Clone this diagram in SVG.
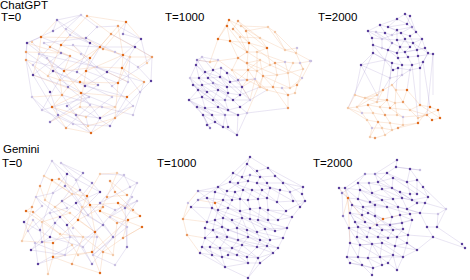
<svg xmlns="http://www.w3.org/2000/svg" width="470" height="280" viewBox="0 0 470 280">
<style>
text{font-family:"Liberation Sans",Arial,sans-serif;font-size:11.5px;fill:#000}
.e1{fill:none;stroke:#a396cf;stroke-width:0.55;stroke-opacity:0.45}
.e2{fill:none;stroke:#f0a874;stroke-width:0.55;stroke-opacity:0.45}
circle{r:1.25px}
.p{fill:#5a3f9c}.p2{fill:#8c7bc0}.p3{fill:#c9c0e2}
.o{fill:#df6a1c}.o2{fill:#e99a63}.o3{fill:#f3caa9}
</style>
<rect width="470" height="280" fill="#fff"/>
<text x="0" y="9">ChatGPT</text>
<text x="1" y="20.5">T=0</text>
<text x="165" y="20.5">T=1000</text>
<text x="318" y="20.5">T=2000</text>
<text x="3" y="153">Gemini</text>
<text x="2" y="167">T=0</text>
<text x="157" y="166.5">T=1000</text>
<text x="313" y="166.5">T=2000</text>

<g id="chatgpt-t0">
<g id="chatgpt-t0-edges">
<path class="e1" d="M81 15L57 20M81 15L97 27M81 15L66 29M57 20L53 31M57 20L70 35M97 27L118 26M97 27L86 38M118 26L141 39M126 22L123 34M123 34L141 39M111 34L135 47M53 31L27 43M41 37L61 45M66 29L90 43M70 35L103 49M86 38L115 52M27 43L26 60M32 42L47 58M44 43L61 53M50 47L33 65M73 45L97 67M90 43L77 72M100 47L86 71M135 47L152 57M135 47L122 68M141 39L147 63M115 52L138 67M123 55L107 72M26 52L53 71M39 54L64 71M61 53L33 75M70 56L48 76M81 54L112 86M90 58L60 80M130 57L128 82M152 57L151 81M26 60L32 97M47 58L68 87M33 65L50 92M53 71L80 82M64 71L42 110M77 72L98 85M86 71L118 83M97 67L144 82M107 72L85 86M122 68L140 92M138 67L151 81M33 75L52 107M48 76L62 95M60 80L89 97M68 87L90 105M80 82L112 97M85 86L127 97M98 85L67 106M112 86L133 106M128 82L115 107M144 82L133 115M50 92L58 115M62 95L76 115M81 93L100 118M89 97L50 122M112 97L86 117M127 97L110 126M140 92L115 118M32 97L66 128M42 110L73 124M52 107L88 126M67 106L91 133M80 107L110 126M90 105L66 128M102 107L133 115M58 115L91 133M76 115L100 118M73 124L110 126M27 43L41 37M53 31L81 15M44 43L86 38M61 45L100 47M135 47L100 47M152 57L147 63M26 52L27 43M26 60L33 75M39 54L97 67M61 53L107 72M151 81L140 92M128 82L97 67M32 97L42 110M58 115L50 122M100 118L133 106M86 117L88 126M57 20L90 43M27 43L64 71M141 39L123 55M26 60L77 72M53 71L85 86M147 63L112 86M33 75L68 87M81 93L115 107M42 110L89 97M62 95L102 107M91 133L100 118"/>
<path class="e2" d="M87 16L126 22M87 16L111 34M126 22L103 49M118 26L123 55M57 20L41 37M66 29L50 47M70 35L61 45M86 38L100 47M41 37L39 54M50 47L70 56M61 45L90 58M100 47L123 55M103 49L130 57M111 34L90 58M26 52L61 53M70 56L64 71M90 58L86 71M123 55L122 68M130 57L152 57M152 57L138 67M26 60L48 76M47 58L60 80M64 71L81 93M86 71L68 87M122 68L118 83M144 82L127 97M48 76L60 80M60 80L62 95M81 93L52 107M80 82L118 83M118 83L115 118M62 95L68 87M52 107L86 117M80 107L115 107M115 107L100 118M115 118L133 106M66 128L91 133M88 126L115 118M91 133L76 115M60 80L98 85M32 97L62 95M39 54L33 75M73 45L81 54M97 67L122 68M107 72L128 82M41 37L86 38M27 43L70 56M111 34L152 57M126 22L141 39M64 71L97 67M33 75L81 93M81 93L127 97M52 107L62 95M50 122L80 107M91 133L115 118M87 16L61 45M118 26L90 58M100 47L64 71M123 55L86 71M61 45L48 76M130 57L118 83M86 71L80 107M122 68L144 82M52 107L66 128"/>
</g>
<circle class="p3" cx="81" cy="15"/><circle class="o2" cx="87" cy="16"/><circle class="o" cx="126" cy="22"/><circle class="p2" cx="57" cy="20"/><circle class="o2" cx="118" cy="26"/><circle class="p3" cx="97" cy="27"/><circle class="p2" cx="53" cy="31"/><circle class="p3" cx="66" cy="29"/><circle class="o2" cx="111" cy="34"/><circle class="p2" cx="123" cy="34"/><circle class="o" cx="41" cy="37"/><circle class="p3" cx="70" cy="35"/><circle class="p2" cx="86" cy="38"/><circle class="p" cx="27" cy="43"/><circle class="o3" cx="32" cy="42"/><circle class="p3" cx="44" cy="43"/><circle class="o2" cx="50" cy="47"/><circle class="o" cx="61" cy="45"/><circle class="p3" cx="73" cy="45"/><circle class="p" cx="90" cy="43"/><circle class="o" cx="100" cy="47"/><circle class="p" cx="135" cy="47"/><circle class="p" cx="141" cy="39"/><circle class="o2" cx="103" cy="49"/><circle class="p3" cx="115" cy="52"/><circle class="o" cx="123" cy="55"/><circle class="o2" cx="26" cy="52"/><circle class="p3" cx="39" cy="54"/><circle class="p2" cx="61" cy="53"/><circle class="o2" cx="70" cy="56"/><circle class="p3" cx="81" cy="54"/><circle class="o" cx="90" cy="58"/><circle class="o3" cx="130" cy="57"/><circle class="o2" cx="152" cy="57"/><circle class="o2" cx="26" cy="60"/><circle class="p3" cx="47" cy="58"/><circle class="p3" cx="33" cy="65"/><circle class="p" cx="53" cy="71"/><circle class="o" cx="64" cy="71"/><circle class="p2" cx="77" cy="72"/><circle class="o" cx="86" cy="71"/><circle class="p3" cx="97" cy="67"/><circle class="p" cx="107" cy="72"/><circle class="o" cx="122" cy="68"/><circle class="p3" cx="138" cy="67"/><circle class="o3" cx="147" cy="63"/><circle class="p" cx="33" cy="75"/><circle class="o3" cx="48" cy="76"/><circle class="o3" cx="60" cy="80"/><circle class="p2" cx="68" cy="87"/><circle class="o" cx="80" cy="82"/><circle class="p" cx="85" cy="86"/><circle class="p2" cx="98" cy="85"/><circle class="p3" cx="112" cy="86"/><circle class="o" cx="118" cy="83"/><circle class="p3" cx="128" cy="82"/><circle class="o2" cx="144" cy="82"/><circle class="p" cx="151" cy="81"/><circle class="p" cx="50" cy="92"/><circle class="o2" cx="62" cy="95"/><circle class="o" cx="81" cy="93"/><circle class="p3" cx="89" cy="97"/><circle class="p3" cx="112" cy="97"/><circle class="o" cx="127" cy="97"/><circle class="p3" cx="140" cy="92"/><circle class="p3" cx="32" cy="97"/><circle class="p3" cx="42" cy="110"/><circle class="o" cx="52" cy="107"/><circle class="p2" cx="67" cy="106"/><circle class="o3" cx="80" cy="107"/><circle class="p3" cx="90" cy="105"/><circle class="p3" cx="102" cy="107"/><circle class="o3" cx="115" cy="107"/><circle class="p3" cx="133" cy="106"/><circle class="p2" cx="58" cy="115"/><circle class="p2" cx="76" cy="115"/><circle class="o3" cx="86" cy="117"/><circle class="p" cx="100" cy="118"/><circle class="o2" cx="115" cy="118"/><circle class="p3" cx="133" cy="115"/><circle class="o2" cx="66" cy="128"/><circle class="p3" cx="73" cy="124"/><circle class="o3" cx="88" cy="126"/><circle class="p2" cx="110" cy="126"/><circle class="o" cx="91" cy="133"/><circle class="p2" cx="50" cy="122"/>
</g>

<g id="chatgpt-t1000">
<g id="chatgpt-t1000-edges">
<path class="e2" d="M229 20L227 26M229 20L241 26M238 21L246 31M238 21L233 29M227 26L218 39M233 29L240 37M241 26L268 27M246 31L249 43M268 27L275 32M275 32L285 50M218 39L230 41M230 41L249 43M240 37L260 38M249 43L267 48M260 38L285 50M267 48L257 52M257 52L247 52M285 50L297 48M297 48L296 53M247 52L238 58M210 62L218 60M238 58L247 63M247 63L260 60M260 60L270 65M270 65L275 63M275 63L285 62M285 62L293 63M293 63L300 63M300 63L311 61M232 70L248 70M248 70L257 71M257 71L263 76M263 76L277 75M277 75L288 73M288 73L303 69M247 80L255 79M255 79L260 87M260 87L273 87M273 87L282 88M282 88L290 88M290 88L297 85M297 85L302 78M267 90L288 95M288 95L295 93M288 95L288 108M218 39L210 62M230 41L238 58M249 43L247 63M267 48L270 65M296 53L303 69M311 61L302 78M257 52L257 71M238 58L232 70M260 60L263 76M275 63L277 75M293 63L288 73M248 70L247 80M263 76L260 87M277 75L273 87M288 73L290 88M303 69L297 85M267 90L260 87M282 88L288 95M295 93L297 85M229 20L218 39M246 31L268 27M227 26L230 41M240 37L247 52M260 38L267 48M285 50L296 53M218 60L232 70M247 63L248 70M270 65L257 71M285 62L288 73M300 63L303 69M241 26L260 38M210 62L238 58M275 32L296 53M233 29L249 43M255 79L267 90M302 78L290 88M263 76L273 87M311 61L296 53M288 108L273 87M247 80L267 90M232 70L250 100M247 80L242 87M238 80L248 70M218 60L213 70M210 62L197 60M257 71L250 100M255 79L242 87M263 76L247 113M229 20L249 43M238 21L260 38M227 26L247 52M246 31L267 48M268 27L285 50M230 41L260 60M249 43L275 63M257 52L285 62M238 58L257 71M247 63L277 75M270 65L288 73M260 60L248 70M275 63L302 78M248 70L260 87M263 76L290 88M232 70L247 80"/>
<path class="e1" d="M197 60L202 57M197 60L196 65M202 57L213 70M196 65L205 72M205 72L213 70M213 70L221 68M221 68L227 73M190 78L199 78M199 78L208 78M208 78L220 77M220 77L230 82M230 82L238 80M193 85L202 85M202 85L213 83M213 83L227 87M227 87L242 87M198 90L207 92M207 92L218 90M218 90L228 93M228 93L240 95M189 100L202 97M202 97L213 100M213 100L225 100M225 100L233 100M233 100L250 100M197 107L205 108M205 108L218 107M218 107L228 110M228 110L240 107M203 115L212 115M212 115L225 115M225 115L238 115M238 115L247 113M207 125L215 122M215 122L223 127M223 127L228 127M228 127L237 135M210 128L207 125M196 65L190 78M205 72L199 78M213 70L208 78M221 68L220 77M227 73L230 82M190 78L193 85M199 78L202 85M208 78L213 83M220 77L227 87M238 80L242 87M193 85L198 90M202 85L207 92M213 83L218 90M227 87L228 93M242 87L240 95M198 90L189 100M207 92L202 97M218 90L213 100M228 93L225 100M240 95L233 100M189 100L197 107M202 97L205 108M213 100L218 107M225 100L228 110M233 100L240 107M197 107L203 115M205 108L212 115M218 107L225 115M228 110L238 115M240 107L247 113M203 115L207 125M212 115L215 122M225 115L223 127M238 115L237 135M196 65L213 83M205 72L227 87M190 78L207 92M199 78L218 90M208 78L228 93M220 77L240 95M193 85L213 100M202 85L225 100M213 83L233 100M189 100L205 108M202 97L218 107M213 100L228 110M197 107L212 115M205 108L225 115M218 107L238 115M203 115L210 128M212 115L223 127M225 115L228 127M202 57L196 65M197 60L205 72M221 68L238 80M230 82L250 100M189 100L203 115M237 135L247 113M210 128L203 115M240 107L250 100M202 57L218 60M197 60L210 62M242 87L250 100M230 82L247 80M238 80L255 79M240 95L260 87M250 100L267 90M247 113L288 108M196 65L199 78M190 78L202 97M193 85L207 92M213 70L230 82M205 72L220 77M227 73L242 87M198 90L213 100M218 90L233 100M207 92L228 110M189 100L212 115M203 115L223 127M215 122L237 135"/>
</g>
<circle class="o" cx="229" cy="20"/><circle class="o2" cx="238" cy="21"/><circle class="o" cx="227" cy="26"/><circle class="o2" cx="233" cy="29"/><circle class="o3" cx="241" cy="26"/><circle class="o2" cx="246" cy="31"/><circle class="o3" cx="268" cy="27"/><circle class="o3" cx="275" cy="32"/><circle class="o" cx="218" cy="39"/><circle class="o" cx="230" cy="41"/><circle class="o3" cx="240" cy="37"/><circle class="o" cx="249" cy="43"/><circle class="o3" cx="260" cy="38"/><circle class="o" cx="267" cy="48"/><circle class="o3" cx="257" cy="52"/><circle class="o2" cx="247" cy="52"/><circle class="o3" cx="285" cy="50"/><circle class="p3" cx="297" cy="48"/><circle class="o3" cx="296" cy="53"/><circle class="o3" cx="210" cy="62"/><circle class="p3" cx="218" cy="60"/><circle class="o2" cx="238" cy="58"/><circle class="o2" cx="247" cy="63"/><circle class="o3" cx="260" cy="60"/><circle class="o3" cx="270" cy="65"/><circle class="o2" cx="275" cy="63"/><circle class="p3" cx="285" cy="62"/><circle class="o3" cx="293" cy="63"/><circle class="p3" cx="300" cy="63"/><circle class="p3" cx="311" cy="61"/><circle class="o3" cx="232" cy="70"/><circle class="o2" cx="248" cy="70"/><circle class="o3" cx="257" cy="71"/><circle class="o2" cx="263" cy="76"/><circle class="o3" cx="277" cy="75"/><circle class="o3" cx="288" cy="73"/><circle class="o3" cx="303" cy="69"/><circle class="o2" cx="247" cy="80"/><circle class="p3" cx="255" cy="79"/><circle class="o3" cx="260" cy="87"/><circle class="o2" cx="273" cy="87"/><circle class="p3" cx="282" cy="88"/><circle class="o3" cx="290" cy="88"/><circle class="o2" cx="297" cy="85"/><circle class="p3" cx="302" cy="78"/><circle class="o3" cx="267" cy="90"/><circle class="o2" cx="288" cy="95"/><circle class="o3" cx="295" cy="93"/><circle class="o2" cx="288" cy="108"/>
<circle class="p2" cx="197" cy="60"/><circle class="p3" cx="202" cy="57"/><circle class="p" cx="196" cy="65"/><circle class="p" cx="205" cy="72"/><circle class="p" cx="213" cy="70"/><circle class="p2" cx="221" cy="68"/><circle class="p" cx="227" cy="73"/><circle class="p3" cx="190" cy="78"/><circle class="p" cx="199" cy="78"/><circle class="p" cx="208" cy="78"/><circle class="p" cx="220" cy="77"/><circle class="p" cx="230" cy="82"/><circle class="p2" cx="238" cy="80"/><circle class="p" cx="193" cy="85"/><circle class="p" cx="202" cy="85"/><circle class="p2" cx="213" cy="83"/><circle class="p" cx="227" cy="87"/><circle class="p" cx="242" cy="87"/><circle class="p" cx="198" cy="90"/><circle class="p" cx="207" cy="92"/><circle class="p" cx="218" cy="90"/><circle class="p" cx="228" cy="93"/><circle class="p" cx="240" cy="95"/><circle class="p" cx="189" cy="100"/><circle class="p" cx="202" cy="97"/><circle class="p" cx="213" cy="100"/><circle class="p2" cx="225" cy="100"/><circle class="p" cx="233" cy="100"/><circle class="p3" cx="250" cy="100"/><circle class="p" cx="197" cy="107"/><circle class="p" cx="205" cy="108"/><circle class="p" cx="218" cy="107"/><circle class="p" cx="228" cy="110"/><circle class="p" cx="240" cy="107"/><circle class="p" cx="203" cy="115"/><circle class="p" cx="212" cy="115"/><circle class="p2" cx="225" cy="115"/><circle class="p" cx="238" cy="115"/><circle class="p3" cx="247" cy="113"/><circle class="p" cx="207" cy="125"/><circle class="p" cx="215" cy="122"/><circle class="p" cx="223" cy="127"/><circle class="p" cx="228" cy="127"/><circle class="p" cx="237" cy="135"/><circle class="p2" cx="210" cy="128"/>
</g>

<g id="chatgpt-t2000">
<g id="chatgpt-t2000-edges">
<path class="e1" d="M405 14L410 16M405 14L397 19M410 16L407 24M397 19L388 27M397 19L407 24M380 25L388 27M380 25L368 31M368 31L376 32M376 32L385 33M388 27L397 30M397 30L412 27M412 27L416 32M385 33L392 35M392 35L401 33M401 33L410 36M410 36L416 32M372 38L382 39M382 39L397 40M397 40L405 39M405 39L422 39M422 39L413 43M413 43L410 47M392 43L400 47M400 47L410 47M373 45L382 48M382 48L388 50M388 50L397 53M397 53L405 52M405 52L417 50M417 50L425 48M425 48L428 53M428 53L433 54M373 53L385 60M385 60L392 63M392 63L402 65M402 65L412 65M412 65L423 62M398 58L408 57M408 57L418 56M361 65L373 53M393 70L398 68M398 68L410 70M410 70L420 68M390 78L402 75M368 31L372 38M376 32L382 39M385 33L392 43M397 30L397 40M401 33L405 39M410 36L413 43M372 38L373 45M382 39L382 48M397 40L400 47M405 39L410 47M392 43L388 50M400 47L397 53M410 47L405 52M413 43L417 50M422 39L425 48M373 45L373 53M388 50L385 60M397 53L398 58M405 52L408 57M417 50L418 56M428 53L423 62M385 60L393 70M398 58L402 65M408 57L412 65M418 56L420 68M392 63L390 78M402 65L402 75M412 65L410 70M397 19L380 25M405 14L412 27M407 24L416 32M388 27L401 33M380 25L385 33M368 31L382 39M416 32L422 39M376 32L392 43M397 40L413 43M382 48L397 53M373 45L388 50M405 52L425 48M433 54L418 56M361 65L385 60M373 53L392 63M398 68L393 70M423 62L420 68M361 65L390 78M402 75L410 70M397 30L392 35M410 16L416 32M420 68L428 53M361 65L355 95M390 78L383 90M402 75L392 85M410 70L407 90M423 62L430 107M373 53L348 108M361 65L377 95M433 54L427 115M392 63L387 100M398 68L396 90M420 68L420 105M385 60L377 102M412 65L418 118M433 54L433 95M407 24L388 27M412 27L401 33M382 39L392 35M405 39L397 53M422 39L417 50M373 45L385 60M400 47L408 57M388 50L398 58M413 43L428 53"/>
<path class="e2" d="M396 90L407 90M383 90L392 85M392 85L396 90M377 95L383 90M355 95L365 98M365 98L377 95M387 100L395 103M395 103L403 102M403 102L407 90M377 102L387 100M348 108L357 107M357 107L368 105M368 105L380 107M380 107L390 108M390 108L410 110M410 110L420 105M420 105L430 107M430 107L438 110M438 110L440 118M440 118L432 120M432 120L427 115M427 115L418 118M418 118L418 123M362 113L373 113M373 113L385 115M385 115L397 115M397 115L403 117M367 120L378 122M378 122L390 123M390 123L403 125M372 128L382 128M382 128L392 130M392 130L398 128M370 137L375 138M375 138L385 135M355 95L348 108M365 98L357 107M377 102L368 105M387 100L390 108M395 103L397 115M403 102L410 110M357 107L362 113M368 105L373 113M380 107L385 115M390 108L403 117M410 110L418 118M362 113L367 120M373 113L378 122M385 115L390 123M403 117L403 125M418 123L403 125M367 120L372 128M378 122L382 128M390 123L392 130M403 125L398 128M372 128L370 137M382 128L385 135M392 130L385 135M348 108L367 120M383 90L377 102M407 90L420 105M396 90L395 103M377 95L357 107M387 100L380 107M430 107L418 123M438 110L418 118M427 115L410 110M420 105L440 118M355 95L377 102M365 98L387 100M398 128L418 123M403 117L427 115M390 108L395 103M348 108L362 113M378 122L370 137M392 85L403 102M383 90L365 98"/>
</g>
<circle class="p3" cx="310" cy="61"/>
<circle class="p" cx="405" cy="14"/><circle class="p" cx="410" cy="16"/><circle class="p" cx="397" cy="19"/><circle class="p" cx="407" cy="24"/><circle class="p" cx="380" cy="25"/><circle class="p" cx="388" cy="27"/><circle class="p" cx="368" cy="31"/><circle class="p3" cx="376" cy="32"/><circle class="p" cx="397" cy="30"/><circle class="p2" cx="412" cy="27"/><circle class="p" cx="416" cy="32"/><circle class="p" cx="385" cy="33"/><circle class="p3" cx="392" cy="35"/><circle class="p" cx="401" cy="33"/><circle class="p" cx="410" cy="36"/><circle class="p" cx="372" cy="38"/><circle class="p3" cx="382" cy="39"/><circle class="p" cx="397" cy="40"/><circle class="p" cx="405" cy="39"/><circle class="p" cx="422" cy="39"/><circle class="p" cx="413" cy="43"/><circle class="p2" cx="392" cy="43"/><circle class="p" cx="400" cy="47"/><circle class="p" cx="410" cy="47"/><circle class="p" cx="373" cy="45"/><circle class="p3" cx="382" cy="48"/><circle class="p" cx="388" cy="50"/><circle class="p" cx="397" cy="53"/><circle class="p" cx="405" cy="52"/><circle class="p" cx="417" cy="50"/><circle class="p" cx="425" cy="48"/><circle class="p" cx="428" cy="53"/><circle class="p" cx="433" cy="54"/><circle class="p" cx="373" cy="53"/><circle class="p" cx="398" cy="58"/><circle class="p" cx="408" cy="57"/><circle class="p" cx="418" cy="56"/><circle class="p3" cx="385" cy="60"/><circle class="p" cx="392" cy="63"/><circle class="p" cx="402" cy="65"/><circle class="p" cx="412" cy="65"/><circle class="p" cx="423" cy="62"/><circle class="p" cx="361" cy="65"/><circle class="p" cx="393" cy="70"/><circle class="p" cx="398" cy="68"/><circle class="p3" cx="410" cy="70"/><circle class="p" cx="420" cy="68"/><circle class="p3" cx="390" cy="78"/><circle class="p3" cx="402" cy="75"/>
<circle class="o3" cx="396" cy="90"/><circle class="o" cx="407" cy="90"/><circle class="o2" cx="383" cy="90"/><circle class="o3" cx="392" cy="85"/><circle class="o3" cx="377" cy="95"/><circle class="o3" cx="355" cy="95"/><circle class="o3" cx="365" cy="98"/><circle class="o2" cx="387" cy="100"/><circle class="o3" cx="395" cy="103"/><circle class="o2" cx="403" cy="102"/><circle class="o3" cx="377" cy="102"/><circle class="o3" cx="348" cy="108"/><circle class="o3" cx="357" cy="107"/><circle class="o2" cx="368" cy="105"/><circle class="o3" cx="380" cy="107"/><circle class="o2" cx="390" cy="108"/><circle class="o3" cx="410" cy="110"/><circle class="o2" cx="420" cy="105"/><circle class="o" cx="430" cy="107"/><circle class="o" cx="438" cy="110"/><circle class="o" cx="440" cy="118"/><circle class="o" cx="432" cy="120"/><circle class="o2" cx="427" cy="115"/><circle class="o3" cx="418" cy="118"/><circle class="o" cx="418" cy="123"/><circle class="p3" cx="362" cy="113"/><circle class="o3" cx="373" cy="113"/><circle class="o2" cx="385" cy="115"/><circle class="o3" cx="397" cy="115"/><circle class="p3" cx="403" cy="117"/><circle class="o3" cx="367" cy="120"/><circle class="o2" cx="378" cy="122"/><circle class="o3" cx="390" cy="123"/><circle class="o3" cx="403" cy="125"/><circle class="p3" cx="372" cy="128"/><circle class="o3" cx="382" cy="128"/><circle class="o3" cx="392" cy="130"/><circle class="o2" cx="398" cy="128"/><circle class="o3" cx="370" cy="137"/><circle class="o2" cx="375" cy="138"/><circle class="o3" cx="385" cy="135"/>
</g>

<g id="gemini-t0">
<g id="gemini-t0-edges">
<path class="e1" d="M52 161L67 174M61 163L83 173M67 174L65 186M83 173L76 180M100 174L124 175M44 176L40 186M76 180L80 190M92 183L100 192M130 187L137 183M65 186L53 193M80 190L62 201M100 192L76 203M53 193L36 197M62 201L67 208M76 203L60 217M100 203L115 210M125 208L132 197M137 201L110 217M42 206L24 222M50 213L55 223M60 217L67 225M88 215L103 225M110 217L127 227M24 222L28 231M33 220L40 230M55 223L50 237M67 225L70 237M103 225L113 237M127 227L127 247M28 231L35 243M40 230L42 242M50 237L31 250M70 237L65 255M97 237L93 255M113 237L92 264M35 243L38 264M83 247L92 264M65 255L38 264M93 255L115 265M127 247L115 265M67 174L100 192M83 173L62 201M61 163L92 183M124 175L100 203M137 183L125 208M36 197L60 217M65 186L88 215M100 192L67 225M80 190L113 237M53 193L40 230M62 201L103 225M76 203L97 237M115 210L83 247M125 208L127 247M24 222L50 237M55 223L83 247M60 217L31 250M67 225L92 264M103 225L65 255M113 237L137 201M31 250L65 255M42 242L70 237M110 217L132 197M88 215L52 161M67 174L53 193M130 187L100 203M28 231L62 201M38 264L72 245M93 255L127 227M50 237L83 247M117 173L137 183M52 161L44 176M124 175L130 187M61 163L76 180M92 183L76 203M36 197L42 206M50 213L67 208M88 215L100 203M115 210L137 201M70 237L97 237M35 243L65 255M93 255L113 237"/>
<path class="e2" d="M100 174L117 173M44 176L52 180M52 180L59 179M59 179L87 196M110 181L115 192M40 186L45 200M72 194L87 196M87 196L90 205M107 197L127 195M90 205L118 203M32 207L26 211M26 211L33 212M55 207L70 213M82 207L78 220M103 207L100 211M133 210L140 216M118 203L128 220M78 220L95 232M100 211L117 223M142 227L123 238M42 222L60 234M60 234L72 245M83 237L103 252M95 232L92 252M123 238L103 252M22 241L33 220M53 243L53 257M72 245L78 255M92 252L100 273M113 255L103 252M53 257L72 264M48 274L53 257M72 264L100 273M117 173L107 197M52 180L72 194M59 179L90 205M110 181L127 195M40 186L32 207M45 200L55 207M87 196L78 220M107 197L100 211M118 203L140 216M26 211L42 222M33 212L60 234M70 213L95 232M78 220L53 243M100 211L142 227M128 220L123 238M117 223L113 255M22 241L53 243M83 237L72 264M95 232L113 255M92 252L53 257M103 252L100 273M100 174L87 196M44 176L72 194M115 192L133 210M32 207L22 241M55 207L83 237M128 220L92 252M140 216L117 223M90 205L95 232M42 222L48 274M103 207L78 220M133 210L118 203M52 180L45 200M72 194L55 207M82 207L103 207M70 213L42 222M123 238L142 227M60 234L83 237M78 255L92 252"/>
</g>
<circle class="p3" cx="52" cy="161"/><circle class="p3" cx="61" cy="163"/><circle class="p" cx="67" cy="174"/><circle class="p2" cx="83" cy="173"/><circle class="o3" cx="100" cy="174"/><circle class="o3" cx="117" cy="173"/><circle class="p3" cx="124" cy="175"/><circle class="o3" cx="44" cy="176"/><circle class="o" cx="52" cy="180"/><circle class="o2" cx="59" cy="179"/><circle class="p3" cx="76" cy="180"/><circle class="p2" cx="92" cy="183"/><circle class="o2" cx="110" cy="181"/><circle class="p3" cx="130" cy="187"/><circle class="p3" cx="137" cy="183"/><circle class="p2" cx="65" cy="186"/><circle class="o2" cx="40" cy="186"/><circle class="p2" cx="80" cy="190"/><circle class="p" cx="100" cy="192"/><circle class="o2" cx="115" cy="192"/><circle class="p3" cx="53" cy="193"/><circle class="o3" cx="72" cy="194"/><circle class="o" cx="87" cy="196"/><circle class="o2" cx="107" cy="197"/><circle class="o2" cx="127" cy="195"/><circle class="p3" cx="132" cy="197"/><circle class="p3" cx="36" cy="197"/><circle class="o3" cx="45" cy="200"/><circle class="p2" cx="62" cy="201"/><circle class="p" cx="76" cy="203"/><circle class="o" cx="90" cy="205"/><circle class="p2" cx="100" cy="203"/><circle class="o" cx="118" cy="203"/><circle class="p3" cx="137" cy="201"/><circle class="o2" cx="32" cy="207"/><circle class="p3" cx="42" cy="206"/><circle class="o3" cx="55" cy="207"/><circle class="p3" cx="67" cy="208"/><circle class="o3" cx="82" cy="207"/><circle class="o2" cx="103" cy="207"/><circle class="p3" cx="115" cy="210"/><circle class="p2" cx="125" cy="208"/><circle class="o2" cx="133" cy="210"/><circle class="o" cx="26" cy="211"/><circle class="o2" cx="33" cy="212"/><circle class="p3" cx="50" cy="213"/><circle class="p" cx="60" cy="217"/><circle class="o3" cx="70" cy="213"/><circle class="o" cx="78" cy="220"/><circle class="p3" cx="88" cy="215"/><circle class="o" cx="100" cy="211"/><circle class="p3" cx="110" cy="217"/><circle class="o" cx="128" cy="220"/><circle class="o" cx="140" cy="216"/><circle class="p" cx="24" cy="222"/><circle class="p3" cx="33" cy="220"/><circle class="o3" cx="42" cy="222"/><circle class="p2" cx="55" cy="223"/><circle class="p" cx="67" cy="225"/><circle class="p3" cx="73" cy="228"/><circle class="o" cx="95" cy="232"/><circle class="p2" cx="103" cy="225"/><circle class="o2" cx="117" cy="223"/><circle class="p3" cx="127" cy="227"/><circle class="o" cx="142" cy="227"/><circle class="p3" cx="28" cy="231"/><circle class="p2" cx="40" cy="230"/><circle class="p" cx="50" cy="237"/><circle class="o3" cx="60" cy="234"/><circle class="p3" cx="70" cy="237"/><circle class="o3" cx="83" cy="237"/><circle class="p3" cx="97" cy="237"/><circle class="p2" cx="113" cy="237"/><circle class="o2" cx="123" cy="238"/><circle class="o3" cx="22" cy="241"/><circle class="p3" cx="35" cy="243"/><circle class="o" cx="53" cy="243"/><circle class="p2" cx="42" cy="242"/><circle class="o3" cx="72" cy="245"/><circle class="p3" cx="83" cy="247"/><circle class="o" cx="92" cy="252"/><circle class="o2" cx="103" cy="252"/><circle class="p2" cx="127" cy="247"/><circle class="p" cx="31" cy="250"/><circle class="o" cx="53" cy="257"/><circle class="p3" cx="65" cy="255"/><circle class="o3" cx="78" cy="255"/><circle class="p3" cx="93" cy="255"/><circle class="o3" cx="113" cy="255"/><circle class="p" cx="38" cy="264"/><circle class="o2" cx="72" cy="264"/><circle class="p2" cx="92" cy="264"/><circle class="o" cx="100" cy="273"/><circle class="o3" cx="48" cy="274"/><circle class="p3" cx="115" cy="265"/>
</g>

<g id="gemini-t1000">
<g id="gemini-t1000-edges">
<path class="e1" d="M250 157L247 164M250 157L268 168M250 157L233 173M247 164L257 171M257 171L268 168M268 168L275 176M233 173L242 177M242 177L250 175M250 175L260 177M260 177L275 176M230 182L238 183M238 183L248 181M248 181L257 183M257 183L267 183M267 183L283 183M218 187L227 191M227 191L235 192M235 192L243 190M243 190L252 190M252 190L262 190M262 190L270 188M270 188L280 190M280 190L290 192M290 192L303 187M303 187L302 194M198 191L215 192M198 200L207 198M207 198L223 200M223 200L232 200M232 200L240 199M240 199L248 200M248 200L258 199M258 199L267 198M267 198L277 202M277 202L293 201M293 201L305 201M305 201L300 207M191 207L212 208M212 208L218 210M218 210L228 208M228 208L240 211M240 211L250 209M250 209L260 208M260 208L268 210M268 210L286 211M207 222L215 220M215 220L223 218M223 218L232 220M232 220L242 218M242 218L250 219M250 219L258 220M258 220L268 220M268 220L278 220M278 220L292 217M205 228L213 230M213 230L222 227M222 227L228 230M228 230L237 228M237 228L247 230M247 230L257 232M257 232L265 229M265 229L275 231M275 231L287 228M205 238L217 237M217 237L227 237M227 237L238 240M238 240L248 237M248 237L260 240M260 240L270 240M270 240L283 238M202 247L210 247M210 247L220 248M220 248L232 248M232 248L242 245M242 245L257 247M257 247L267 246M267 246L278 248M200 253L212 255M212 255L222 257M222 257L228 255M228 255L237 255M237 255L247 257M247 257L258 258M258 258L273 253M225 267L248 263M248 263L260 263M248 278L225 267M248 278L260 263M233 173L230 182M242 177L238 183M250 175L248 181M260 177L257 183M275 176L283 183M230 182L218 187M238 183L227 191M248 181L243 190M257 183L262 190M267 183L270 188M283 183L290 192M218 187L215 192M227 191L223 200M235 192L232 200M243 190L240 199M252 190L248 200M262 190L258 199M270 188L267 198M280 190L277 202M290 192L293 201M302 194L305 201M215 192L212 208M223 200L218 210M232 200L228 208M240 199L240 211M248 200L250 209M258 199L260 208M267 198L268 210M277 202L286 211M300 207L292 217M212 208L207 222M218 210L215 220M228 208L223 218M240 211L242 218M250 209L250 219M260 208L258 220M268 210L268 220M286 211L278 220M207 222L205 228M215 220L213 230M223 218L222 227M232 220L237 228M242 218L247 230M250 219L257 232M258 220L265 229M268 220L275 231M292 217L287 228M205 228L205 238M213 230L217 237M222 227L227 237M237 228L238 240M247 230L248 237M257 232L260 240M265 229L270 240M287 228L283 238M205 238L202 247M217 237L210 247M227 237L220 248M238 240L232 248M248 237L242 245M260 240L257 247M270 240L267 246M283 238L278 248M202 247L200 253M210 247L212 255M220 248L222 257M232 248L228 255M242 245L237 255M257 247L247 257M267 246L258 258M278 248L273 253M222 257L225 267M247 257L248 263M258 258L260 263M247 164L230 182M257 171L267 183M268 168L303 187M233 173L218 187M275 176L302 194M198 191L207 198M198 200L191 207M207 198L212 208M230 182L243 190M257 183L280 190M283 183L303 187M218 187L198 200M215 192L240 199M243 190L258 199M262 190L277 202M290 192L300 207M212 208L232 220M228 208L250 219M240 211L268 220M260 208L278 220M191 207L207 222M207 222L222 227M223 218L247 230M242 218L265 229M258 220L287 228M205 228L227 237M213 230L238 240M237 228L260 240M257 232L283 238M205 238L220 248M217 237L242 245M238 240L267 246M260 240L278 248M202 247L222 257M220 248L237 255M242 245L258 258M267 246L273 253M212 255L225 267M237 255L248 263M258 258L248 278M200 253L225 267M273 253L260 263M305 201L286 211M198 191L218 187M250 157L242 177M268 168L283 183M207 198L228 208M223 200L240 211M250 209L268 220M232 220L257 232M222 227L248 237M227 237L257 247M210 247L237 255M232 248L258 258M247 164L260 177M233 173L248 181M230 182L252 190M218 187L232 200M235 192L250 209M252 190L267 198M270 188L293 201M212 208L223 218M218 210L242 218M268 210L292 217M215 220L228 230M242 218L237 228M250 219L275 231M213 230L205 238M228 230L248 237M247 230L270 240M265 229L287 228M217 237L232 248M248 237L267 246M202 247L212 255M232 248L247 257M257 247L273 253M222 257L248 263M260 263L273 253M300 207L305 201"/>
<path class="e2" d="M198 191L188 203M188 203L183 219M183 219L187 235M187 235L200 253M183 219L207 222M215 203L218 210M215 203L198 200M187 235L205 238M215 203L223 200M183 219L191 207"/>
</g>
<circle class="p" cx="250" cy="157"/><circle class="p" cx="247" cy="164"/><circle class="p" cx="257" cy="171"/><circle class="p" cx="268" cy="168"/><circle class="p" cx="233" cy="173"/><circle class="p" cx="242" cy="177"/><circle class="p2" cx="250" cy="175"/><circle class="p" cx="260" cy="177"/><circle class="p" cx="275" cy="176"/><circle class="p" cx="230" cy="182"/><circle class="p" cx="238" cy="183"/><circle class="p" cx="248" cy="181"/><circle class="p" cx="257" cy="183"/><circle class="p" cx="267" cy="183"/><circle class="p" cx="283" cy="183"/><circle class="p" cx="218" cy="187"/><circle class="p" cx="227" cy="191"/><circle class="p" cx="235" cy="192"/><circle class="p" cx="243" cy="190"/><circle class="p" cx="252" cy="190"/><circle class="p" cx="262" cy="190"/><circle class="p" cx="270" cy="188"/><circle class="p" cx="280" cy="190"/><circle class="p2" cx="290" cy="192"/><circle class="p" cx="303" cy="187"/><circle class="p" cx="302" cy="194"/><circle class="p2" cx="198" cy="191"/><circle class="p" cx="215" cy="192"/><circle class="p2" cx="198" cy="200"/><circle class="p" cx="207" cy="198"/><circle class="o" cx="215" cy="203"/><circle class="p" cx="223" cy="200"/><circle class="p" cx="232" cy="200"/><circle class="p" cx="240" cy="199"/><circle class="p" cx="248" cy="200"/><circle class="p" cx="258" cy="199"/><circle class="p" cx="267" cy="198"/><circle class="p" cx="277" cy="202"/><circle class="p" cx="293" cy="201"/><circle class="p" cx="305" cy="201"/><circle class="p" cx="300" cy="207"/><circle class="p3" cx="188" cy="203"/><circle class="p" cx="191" cy="207"/><circle class="p" cx="212" cy="208"/><circle class="p" cx="218" cy="210"/><circle class="p" cx="228" cy="208"/><circle class="p" cx="240" cy="211"/><circle class="p" cx="250" cy="209"/><circle class="p" cx="260" cy="208"/><circle class="p" cx="268" cy="210"/><circle class="p" cx="286" cy="211"/><circle class="o2" cx="183" cy="219"/><circle class="p" cx="207" cy="222"/><circle class="p" cx="215" cy="220"/><circle class="p" cx="223" cy="218"/><circle class="p" cx="232" cy="220"/><circle class="p" cx="242" cy="218"/><circle class="p" cx="250" cy="219"/><circle class="p" cx="258" cy="220"/><circle class="p" cx="268" cy="220"/><circle class="p" cx="278" cy="220"/><circle class="p" cx="292" cy="217"/><circle class="o2" cx="187" cy="235"/><circle class="p" cx="205" cy="228"/><circle class="p" cx="213" cy="230"/><circle class="p" cx="222" cy="227"/><circle class="p" cx="228" cy="230"/><circle class="p" cx="237" cy="228"/><circle class="p" cx="247" cy="230"/><circle class="p" cx="257" cy="232"/><circle class="p" cx="265" cy="229"/><circle class="p" cx="275" cy="231"/><circle class="p" cx="287" cy="228"/><circle class="p" cx="205" cy="238"/><circle class="p" cx="217" cy="237"/><circle class="p" cx="227" cy="237"/><circle class="p" cx="238" cy="240"/><circle class="p" cx="248" cy="237"/><circle class="p" cx="260" cy="240"/><circle class="p" cx="270" cy="240"/><circle class="p" cx="283" cy="238"/><circle class="p" cx="202" cy="247"/><circle class="p" cx="210" cy="247"/><circle class="p" cx="220" cy="248"/><circle class="p" cx="232" cy="248"/><circle class="p" cx="242" cy="245"/><circle class="p" cx="257" cy="247"/><circle class="p" cx="267" cy="246"/><circle class="p" cx="278" cy="248"/><circle class="p" cx="200" cy="253"/><circle class="p" cx="212" cy="255"/><circle class="p" cx="222" cy="257"/><circle class="p" cx="228" cy="255"/><circle class="p" cx="237" cy="255"/><circle class="p" cx="247" cy="257"/><circle class="p" cx="258" cy="258"/><circle class="p" cx="273" cy="253"/><circle class="p" cx="225" cy="267"/><circle class="p" cx="248" cy="263"/><circle class="p" cx="260" cy="263"/><circle class="p" cx="248" cy="278"/>
</g>

<g id="gemini-t2000">
<g id="gemini-t2000-edges">
<path class="e1" d="M397 160L396 167M396 167L387 173M396 167L410 169M410 169L420 170M365 174L375 174M375 174L387 173M358 183L369 183M369 183L378 182M378 182L393 178M393 178L407 182M407 182L417 180M417 180L423 187M339 188L345 188M345 188L360 190M360 190L372 193M372 193L382 189M382 189L392 188M392 188L400 192M400 192L410 194M410 194L417 194M348 198L358 199M358 199L370 202M370 202L382 200M382 200L393 199M393 199L402 198M402 198L412 200M412 200L428 197M352 205L363 207M363 207L375 205M375 205L387 207M387 207L398 207M398 207L407 209M407 209L417 203M417 203L425 203M425 203L446 209M350 213L362 215M362 215L368 213M368 213L375 216M375 216L383 219M383 219L392 217M392 217L400 215M400 215L410 214M410 214L420 213M420 213L438 214M355 222L365 222M365 222L377 225M377 225L390 225M390 225L402 223M402 223L412 220M427 227L437 227M349 228L358 227M358 227L370 228M370 228L382 230M382 230L393 230M393 230L403 229M357 237L367 237M367 237L378 237M378 237L388 238M388 238L397 237M397 237L408 235M408 235L433 237M350 243L360 245M360 245L372 244M372 244L382 243M382 243L395 246M395 246L407 243M407 243L417 250M347 257L358 257M358 257L368 258M368 258L380 257M380 257L393 255M393 255L403 257M350 263L362 265M362 265L373 268M373 268L382 265M382 265L388 263M388 263L397 270M372 275L373 268M387 173L393 178M375 174L378 182M365 174L358 183M410 169L407 182M358 183L360 190M369 183L372 193M378 182L382 189M393 178L392 188M407 182L410 194M417 180L417 194M339 188L342 193M342 193L348 198M345 188L358 199M360 190L370 202M372 193L382 200M382 189L393 199M392 188L402 198M400 192L412 200M423 187L428 197M348 198L352 205M358 199L363 207M370 202L375 205M382 200L387 207M393 199L398 207M402 198L407 209M412 200L417 203M428 197L425 203M352 205L350 213M342 193L343 216M363 207L362 215M375 205L375 216M387 207L392 217M398 207L400 215M407 209L410 214M425 203L420 213M446 209L438 214M343 216L349 228M350 213L355 222M362 215L365 222M375 216L377 225M392 217L390 225M400 215L402 223M410 214L412 220M438 214L437 227M420 213L427 227M355 222L358 227M365 222L370 228M377 225L382 230M390 225L393 230M402 223L403 229M412 220L408 235M427 227L433 237M349 228L350 243M358 227L357 237M370 228L367 237M382 230L378 237M393 230L388 238M403 229L397 237M357 237L360 245M367 237L372 244M378 237L382 243M397 237L395 246M408 235L407 243M433 237L417 250M437 227L462 244M462 244L465 248M433 237L465 248M350 243L347 257M360 245L358 257M372 244L368 258M382 243L380 257M395 246L393 255M407 243L403 257M347 257L350 263M358 257L362 265M368 258L373 268M380 257L382 265M393 255L388 263M403 257L397 270M397 160L375 174M396 167L420 170M387 173L378 182M365 174L345 188M358 183L342 193M410 169L423 187M375 174L392 188M393 178L417 194M360 190L358 199M372 193L393 199M392 188L412 200M345 188L352 205M358 199L375 205M382 200L398 207M402 198L425 203M352 205L362 215M363 207L383 219M387 207L410 214M407 209L420 213M350 213L358 227M362 215L377 225M375 216L393 230M400 215L412 220M355 222L367 237M370 228L388 238M390 225L408 235M349 228L360 245M357 237L372 244M378 237L395 246M397 237L417 250M350 243L358 257M360 245L380 257M382 243L403 257M347 257L362 265M368 258L382 265M393 255L397 270M362 265L372 275M417 250L403 257M446 209L437 227M423 187L446 209M387 173L407 182M369 183L392 188M400 192L402 198M410 194L412 200M370 202L387 207M368 213L390 225M377 225L397 237M358 227L378 237M372 244L393 255M380 257L388 263M358 183L372 193M378 182L400 192M407 182L428 197M360 190L382 200M382 189L402 198M352 205L375 216M363 207L387 207M398 207L420 213M350 213L365 222M377 225L402 223M390 225L412 220M355 222L370 228M382 230L403 229M349 228L367 237M378 237L397 237M360 245L382 243M395 246L417 250M347 257L368 258M380 257L403 257M350 263L373 268M372 244L380 257"/>
<path class="e2" d="M348 198L339 188M348 198L343 216M348 198L350 243M383 219L370 228M383 219L400 215M348 198L365 222M345 188L350 213"/>
</g>
<circle class="p" cx="397" cy="160"/><circle class="p" cx="396" cy="167"/><circle class="p" cx="387" cy="173"/><circle class="p" cx="410" cy="169"/><circle class="p3" cx="420" cy="170"/><circle class="p2" cx="365" cy="174"/><circle class="p2" cx="375" cy="174"/><circle class="p" cx="358" cy="183"/><circle class="p2" cx="369" cy="183"/><circle class="p" cx="378" cy="182"/><circle class="p" cx="393" cy="178"/><circle class="p" cx="407" cy="182"/><circle class="p" cx="417" cy="180"/><circle class="p" cx="423" cy="187"/><circle class="p" cx="339" cy="188"/><circle class="p" cx="345" cy="188"/><circle class="p2" cx="342" cy="193"/><circle class="p" cx="360" cy="190"/><circle class="p" cx="372" cy="193"/><circle class="p" cx="382" cy="189"/><circle class="p" cx="392" cy="188"/><circle class="p" cx="400" cy="192"/><circle class="p" cx="410" cy="194"/><circle class="p" cx="417" cy="194"/><circle class="o" cx="348" cy="198"/><circle class="p" cx="358" cy="199"/><circle class="p" cx="370" cy="202"/><circle class="p" cx="382" cy="200"/><circle class="p" cx="393" cy="199"/><circle class="p" cx="402" cy="198"/><circle class="p" cx="412" cy="200"/><circle class="p" cx="428" cy="197"/><circle class="p" cx="352" cy="205"/><circle class="p" cx="363" cy="207"/><circle class="p" cx="375" cy="205"/><circle class="p" cx="387" cy="207"/><circle class="p" cx="398" cy="207"/><circle class="p" cx="407" cy="209"/><circle class="p" cx="417" cy="203"/><circle class="p" cx="425" cy="203"/><circle class="p3" cx="446" cy="209"/><circle class="p" cx="350" cy="213"/><circle class="p2" cx="343" cy="216"/><circle class="p" cx="362" cy="215"/><circle class="p" cx="368" cy="213"/><circle class="p" cx="375" cy="216"/><circle class="o" cx="383" cy="219"/><circle class="p" cx="392" cy="217"/><circle class="p" cx="400" cy="215"/><circle class="p" cx="410" cy="214"/><circle class="p" cx="420" cy="213"/><circle class="p3" cx="438" cy="214"/><circle class="p" cx="355" cy="222"/><circle class="p" cx="365" cy="222"/><circle class="p" cx="377" cy="225"/><circle class="p" cx="390" cy="225"/><circle class="p" cx="402" cy="223"/><circle class="p" cx="412" cy="220"/><circle class="p" cx="427" cy="227"/><circle class="p" cx="437" cy="227"/><circle class="p" cx="349" cy="228"/><circle class="p" cx="358" cy="227"/><circle class="p" cx="370" cy="228"/><circle class="p" cx="382" cy="230"/><circle class="p" cx="393" cy="230"/><circle class="p" cx="403" cy="229"/><circle class="p" cx="357" cy="237"/><circle class="p" cx="367" cy="237"/><circle class="p" cx="378" cy="237"/><circle class="p" cx="388" cy="238"/><circle class="p" cx="397" cy="237"/><circle class="p" cx="408" cy="235"/><circle class="p" cx="433" cy="237"/><circle class="p" cx="350" cy="243"/><circle class="p" cx="360" cy="245"/><circle class="p" cx="372" cy="244"/><circle class="p" cx="382" cy="243"/><circle class="p" cx="395" cy="246"/><circle class="p" cx="407" cy="243"/><circle class="p" cx="417" cy="250"/><circle class="p" cx="462" cy="244"/><circle class="p" cx="465" cy="248"/><circle class="p" cx="347" cy="257"/><circle class="p" cx="358" cy="257"/><circle class="p" cx="368" cy="258"/><circle class="p" cx="380" cy="257"/><circle class="p" cx="393" cy="255"/><circle class="p" cx="403" cy="257"/><circle class="p" cx="350" cy="263"/><circle class="p" cx="362" cy="265"/><circle class="p" cx="373" cy="268"/><circle class="p" cx="382" cy="265"/><circle class="p" cx="388" cy="263"/><circle class="p" cx="397" cy="270"/><circle class="p" cx="372" cy="275"/>
</g>
</svg>
